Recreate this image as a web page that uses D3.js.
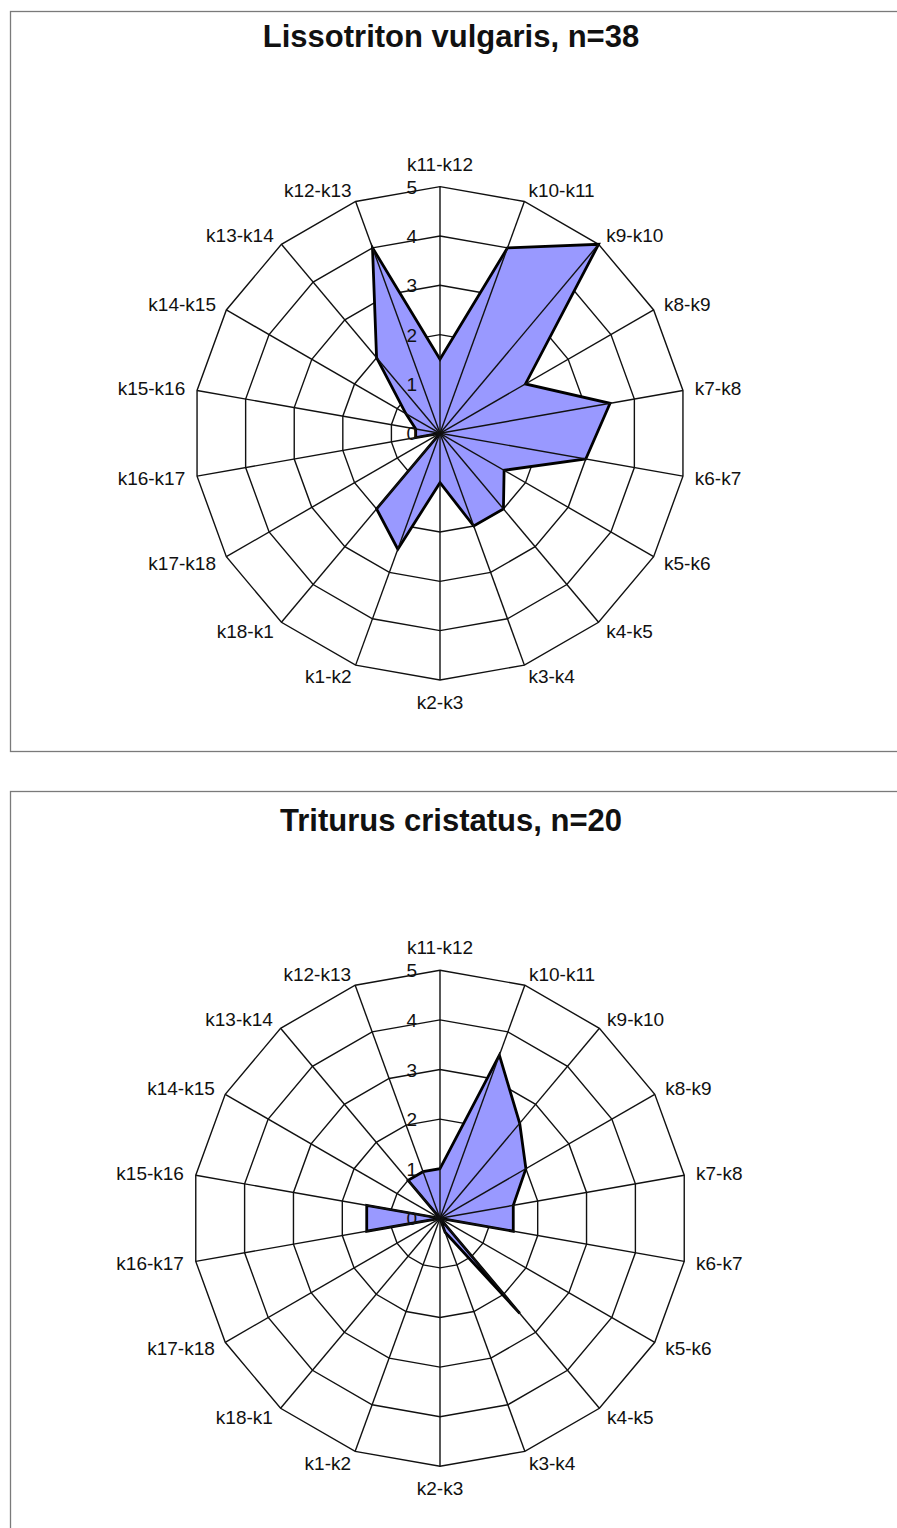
<!DOCTYPE html>
<html>
<head>
<meta charset="utf-8">
<script src="https://cdn.jsdelivr.net/npm/d3@7"></script>
<style>
  html, body { margin: 0; padding: 0; background: #fff; }
  svg { display: block; }
  text { font-family: "Liberation Sans", Arial, sans-serif; fill: #111; }
</style>
</head>
<body>
<svg id="chart" width="897" height="1528"></svg>
<script>
// Intervals between sampling points, clockwise from the top spoke
const categories = ["k11-k12", "k10-k11", "k9-k10", "k8-k9", "k7-k8", "k6-k7",
                    "k5-k6", "k4-k5", "k3-k4", "k2-k3", "k1-k2", "k18-k1",
                    "k17-k18", "k16-k17", "k15-k16", "k14-k15", "k13-k14", "k12-k13"];

const vulgarisValues  = [1.5, 4, 5, 2, 3.5, 3, 1.5, 2, 2, 1, 2.5, 2, 0, 0.5, 0.5, 0.8, 2, 4];
const cristatusValues = [1, 3.5, 2.5, 2, 1.5, 1.5, 0, 2.5, 0.3, 0, 0, 0, 0, 1.5, 1.5, 0, 1, 1];

const tickLabels = [0, 1, 2, 3, 4, 5];

const panels = [
  { title: "Lissotriton vulgaris, n=38", values: vulgarisValues,
    box: [10, 11, 900, 740], titleY: 47, cx: 440, cy: 433.3, R: 246.7 },
  { title: "Triturus cristatus, n=20", values: cristatusValues,
    box: [10, 791, 900, 760], titleY: 831, cx: 440, cy: 1218.3, R: 248 }
];

const svg = d3.select("#chart");
const step = 2 * Math.PI / categories.length;

panels.forEach(p => {
  const g = svg.append("g");

  // frame
  g.append("rect")
    .attr("x", p.box[0] + 0.5).attr("y", p.box[1] + 0.5)
    .attr("width", p.box[2]).attr("height", p.box[3])
    .attr("fill", "#fff").attr("stroke", "#7a7a7a").attr("stroke-width", 1.3);

  g.append("text")
    .attr("x", 451).attr("y", p.titleY)
    .attr("text-anchor", "middle")
    .attr("font-size", 31).attr("font-weight", "bold")
    .text(p.title);

  const r = d3.scaleLinear().domain([0, 5]).range([0, p.R]);
  const plot = g.append("g").attr("transform", `translate(${p.cx},${p.cy})`);

  const ring = d3.lineRadial()
    .angle((d, i) => i * step)
    .radius(d => r(d))
    .curve(d3.curveLinearClosed);

  // concentric grid rings at every tick
  plot.selectAll("path.ring")
    .data(tickLabels.filter(t => t > 0))
    .join("path")
    .attr("class", "ring")
    .attr("d", t => ring(categories.map(() => t)))
    .attr("fill", "none").attr("stroke", "#111").attr("stroke-width", 1.4);

  // data area
  plot.append("path")
    .attr("d", ring(p.values))
    .attr("fill", "#9999ff")
    .attr("stroke", "#000").attr("stroke-width", 2.8)
    .attr("stroke-linejoin", "miter");

  // spokes
  plot.selectAll("line.spoke")
    .data(categories)
    .join("line")
    .attr("class", "spoke")
    .attr("x1", 0).attr("y1", 0)
    .attr("x2", (d, i) => r(5) * Math.sin(i * step))
    .attr("y2", (d, i) => -r(5) * Math.cos(i * step))
    .attr("stroke", "#111").attr("stroke-width", 1.4);

  // category labels just outside the outer ring
  plot.selectAll("text.cat")
    .data(categories)
    .join("text")
    .attr("class", "cat")
    .attr("font-size", 19)
    .each(function (d, i) {
      const a = i * step;
      const s = Math.sin(a), c = Math.cos(a);
      const x = (r(5) + 12) * s, y = -(r(5) + 12) * c;
      const t = d3.select(this).text(d).attr("x", x);
      if (Math.abs(s) < 0.01) {
        t.attr("text-anchor", "middle")
         .attr("y", c > 0 ? y - 4 : y + 17);
      } else {
        t.attr("text-anchor", s > 0 ? "start" : "end")
         .attr("y", y + 7);
      }
    });

  // radial value ticks beside the top spoke
  plot.selectAll("text.tick")
    .data(tickLabels)
    .join("text")
    .attr("class", "tick")
    .attr("font-size", 19)
    .attr("text-anchor", "end")
    .attr("x", -23)
    .attr("y", d => -r(d) + 7)
    .text(d => d);
});
</script>
</body>
</html>
